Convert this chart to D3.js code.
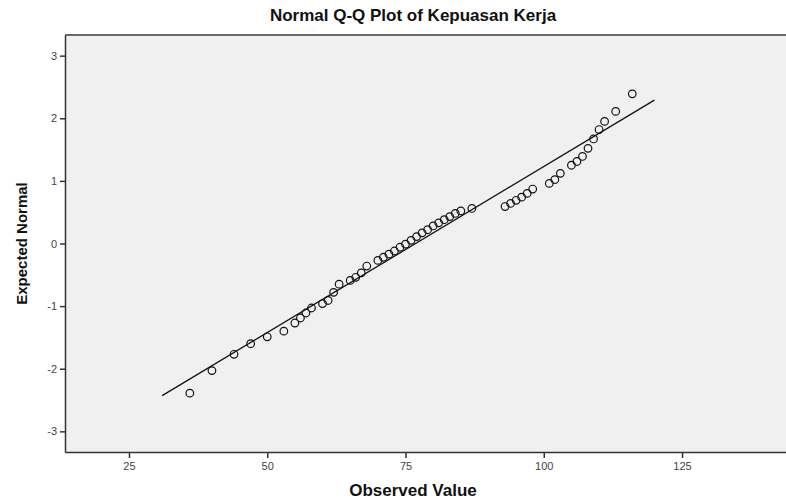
<!DOCTYPE html>
<html>
<head>
<meta charset="utf-8">
<script src="https://cdn.jsdelivr.net/npm/d3@7"></script>
<style>
  html, body { margin: 0; padding: 0; background: #ffffff; }
  svg { display: block; }
</style>
</head>
<body>
<svg id="chart" width="786" height="499"></svg>
<script>
// ---- data ----
const observedValues = [36, 40, 44, 47, 50, 53, 55, 56, 57, 58, 60, 61, 62, 63, 65, 66, 67, 68,
  70, 71, 72, 73, 74, 75, 76, 77, 78, 79, 80, 81, 82, 83, 84, 85, 87,
  93, 94, 95, 96, 97, 98, 101, 102, 103, 105, 106, 107, 108, 109, 110, 111, 113, 116];
const expectedNormal = [-2.39, -2.03, -1.77, -1.60, -1.49, -1.40, -1.27, -1.19, -1.11, -1.03, -0.96, -0.91, -0.78, -0.65, -0.59, -0.54, -0.47, -0.36,
  -0.27, -0.22, -0.17, -0.12, -0.06, -0.01, 0.05, 0.11, 0.17, 0.22, 0.28, 0.33, 0.38, 0.43, 0.48, 0.52, 0.56,
  0.59, 0.64, 0.69, 0.74, 0.80, 0.87, 0.96, 1.02, 1.12, 1.25, 1.31, 1.39, 1.52, 1.67, 1.82, 1.95, 2.11, 2.39];
// reference line end points (observed, expected)
const refLineX = [31, 120];
const refLineY = [-2.43, 2.29];
const xTicks = [25, 50, 75, 100, 125];
const yTicks = [-3, -2, -1, 0, 1, 2, 3];
const chartTitle = "Normal Q-Q Plot of Kepuasan Kerja";
const xTitle = "Observed Value";
const yTitle = "Expected Normal";

// ---- layout ----
const svg = d3.select("#chart");
const plot = { left: 65, top: 35, right: 786, bottom: 452 };

const x = d3.scaleLinear().domain([13.43, 143.8]).range([plot.left, plot.right]);
const y = d3.scaleLinear().domain([-3.33, 3.33]).range([plot.bottom, plot.top]);

const fontFamily = "'Liberation Sans', Arial, sans-serif";

// background
svg.append("rect")
  .attr("x", plot.left).attr("y", plot.top)
  .attr("width", plot.right - plot.left + 5).attr("height", plot.bottom - plot.top)
  .attr("fill", "#f0f0f0");

// top frame line
svg.append("line").attr("x1", plot.left).attr("x2", 786).attr("y1", plot.top).attr("y2", plot.top)
  .attr("stroke", "#6a6a6a").attr("stroke-width", 2);

// axes
const xAxis = d3.axisBottom(x).tickValues(xTicks).tickSize(6).tickSizeOuter(0).tickPadding(4)
  .tickFormat(d => String(d));
const gx = svg.append("g").attr("transform", `translate(0,${plot.bottom})`).call(xAxis);
gx.select(".domain").attr("stroke", "#333").attr("stroke-width", 1.5);
gx.selectAll(".tick line").attr("stroke", "#333").attr("stroke-width", 1.5);
gx.selectAll(".tick text").attr("fill", "#444").style("font-family", fontFamily).style("font-size", "11px");

const yAxis = d3.axisLeft(y).tickValues(yTicks).tickSize(5).tickSizeOuter(0).tickPadding(3)
  .tickFormat(d => String(d));
const gy = svg.append("g").attr("transform", `translate(${plot.left},0)`).call(yAxis);
gy.select(".domain").attr("stroke", "#333").attr("stroke-width", 1.5);
gy.selectAll(".tick line").attr("stroke", "#333").attr("stroke-width", 1.5);
gy.selectAll(".tick text").attr("fill", "#444").style("font-family", fontFamily).style("font-size", "11px");

// reference line
const lineData = refLineX.map((v, i) => [v, refLineY[i]]);
svg.append("path")
  .datum(lineData)
  .attr("d", d3.line().x(d => x(d[0])).y(d => y(d[1])))
  .attr("fill", "none").attr("stroke", "#111").attr("stroke-width", 1.3);

// points
const points = observedValues.map((v, i) => ({ obs: v, exp: expectedNormal[i] }));
svg.append("g").selectAll("circle")
  .data(points)
  .join("circle")
  .attr("cx", d => x(d.obs))
  .attr("cy", d => y(d.exp))
  .attr("r", 3.8)
  .attr("fill", "none")
  .attr("stroke", "#111")
  .attr("stroke-width", 1.2);

// titles
svg.append("text")
  .attr("x", 413).attr("y", 21)
  .attr("text-anchor", "middle")
  .style("font-family", fontFamily).style("font-weight", "bold").style("font-size", "17px")
  .attr("fill", "#111")
  .text(chartTitle);

svg.append("text")
  .attr("x", 413).attr("y", 496)
  .attr("text-anchor", "middle")
  .style("font-family", fontFamily).style("font-weight", "bold").style("font-size", "17px")
  .attr("fill", "#111")
  .text(xTitle);

svg.append("text")
  .attr("transform", `translate(27,${y(0)}) rotate(-90)`)
  .attr("text-anchor", "middle")
  .style("font-family", fontFamily).style("font-weight", "bold").style("font-size", "15px")
  .attr("fill", "#111")
  .text(yTitle);
</script>
</body>
</html>
